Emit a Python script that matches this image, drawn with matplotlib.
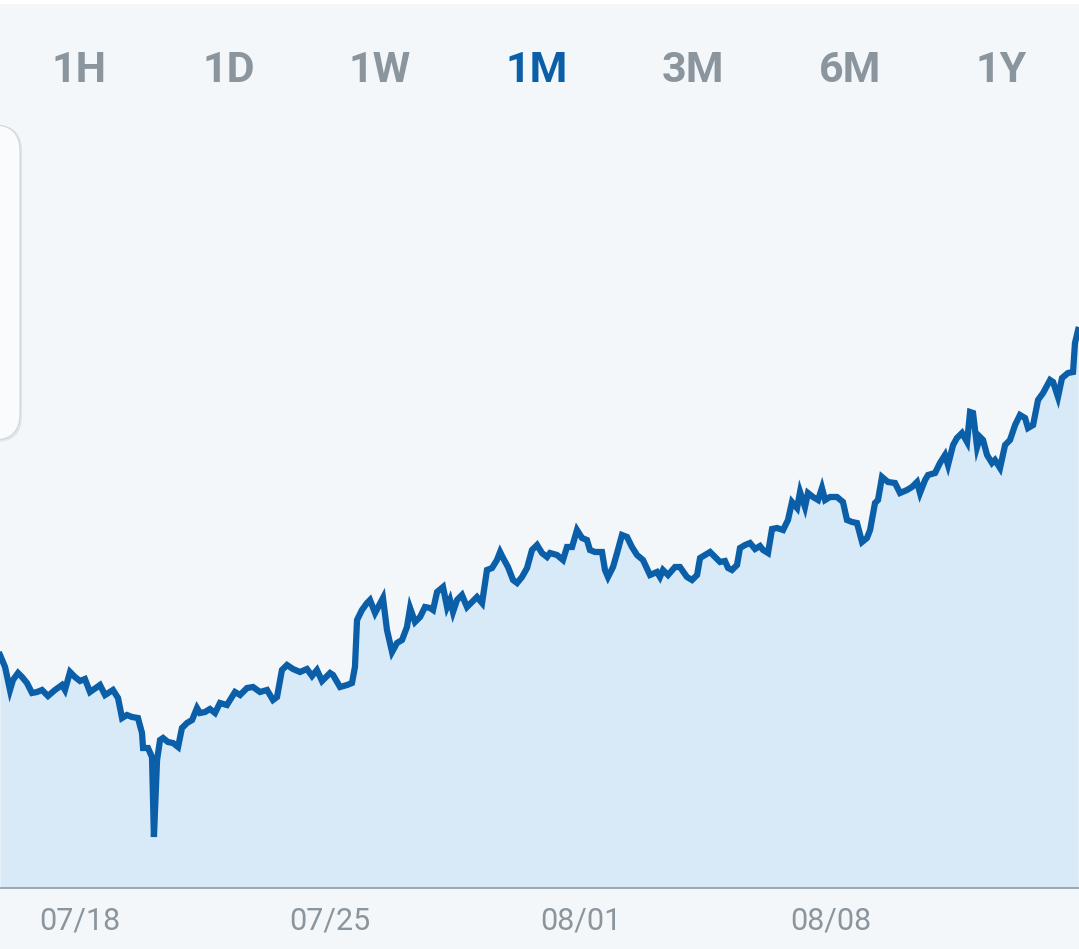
import matplotlib
matplotlib.use("Agg")
from matplotlib import pyplot as plt
from matplotlib.patches import FancyBboxPatch, Rectangle

# hours since 07/15 00:00
hours = [18.3, 21.7, 25.0, 27.0, 30.4, 33.1, 36.4, 39.8, 43.1, 46.5,
         50.5, 55.2, 59.9, 61.9, 65.3, 68.6, 72.0, 75.3, 78.7, 83.4,
         85.4, 88.8, 94.1, 97.5, 100.2, 103.5, 106.9, 110.9, 113.6, 114.3,
         117.6, 120.3, 121.6, 123.7, 125.7, 127.7, 131.0, 134.4, 137.8, 140.4,
         143.8, 147.2, 150.5, 152.5, 155.9, 159.2, 162.6, 165.9, 170.6, 176.0,
         179.4, 184.1, 188.1, 192.8, 197.5, 201.5, 204.2, 207.5, 210.9, 214.9,
         219.6, 224.3, 227.7, 231.0, 234.4, 239.8, 241.8, 246.5, 251.2, 254.5,
         256.5, 257.9, 261.2, 264.6, 266.6, 270.0, 275.3, 278.0, 281.4, 284.7,
         288.1, 291.4, 293.5, 296.8, 300.2, 303.5, 306.9, 308.9, 311.6, 315.6,
         318.3, 320.3, 322.3, 325.0, 328.3, 331.7, 335.1, 338.4, 341.8, 345.1,
         348.5, 351.8, 353.9, 355.9, 359.2, 362.6, 365.3, 368.6, 372.0, 375.3,
         378.7, 382.0, 385.4, 387.4, 392.1, 396.1, 398.8, 402.2, 405.5, 408.9,
         412.2, 414.2, 417.6, 422.3, 424.3, 426.3, 429.7, 432.4, 435.7, 439.1,
         442.4, 445.8, 449.8, 454.5, 459.2, 461.2, 463.2, 466.6, 471.3, 474.6,
         479.3, 482.7, 486.1, 488.1, 491.4, 494.8, 498.1, 501.5, 504.8, 506.9,
         509.5, 512.9, 514.9, 518.3, 521.6, 525.0, 528.3, 530.4, 533.7, 536.4,
         539.7, 543.8, 547.1, 549.8, 553.2, 555.2, 558.5, 560.5, 563.9, 567.3,
         569.9, 572.0, 575.3, 580.0, 584.0, 586.7, 590.1, 593.4, 596.8, 600.1,
         602.2, 605.5, 607.5, 610.2, 614.2, 618.9, 622.3, 627.0, 630.3, 633.7,
         635.7, 639.1, 641.1, 645.8, 649.1, 652.5, 654.5, 657.9, 660.5, 663.9,
         667.3, 669.3, 671.3, 674.0, 676.0, 678.0, 680.7, 684.0, 686.0, 689.4,
         692.8, 696.1, 699.5, 702.8, 706.2, 708.2, 711.6, 714.9, 718.3, 723.0,
         725.0, 728.3, 731.0, 735.0, 738.4, 739.7, 741.8]

prices = [24.5, 23.3, 21.0, 22.0, 22.7, 22.3, 21.7, 20.7, 20.8, 21.0,
          20.4, 21.0, 21.5, 21.0, 22.8, 22.3, 21.9, 22.1, 20.8, 21.3,
          21.5, 20.5, 21.0, 20.2, 18.2, 18.5, 18.3, 18.2, 16.7, 15.2,
          15.2, 14.3, 6.3, 14.0, 16.0, 16.2, 15.8, 15.7, 15.3, 17.2,
          17.7, 18.0, 19.2, 18.7, 18.8, 19.1, 18.7, 19.7, 19.5, 20.8,
          20.5, 21.2, 21.3, 20.8, 21.0, 20.0, 20.3, 23.0, 23.5, 23.1,
          22.8, 23.1, 22.4, 23.0, 21.9, 22.7, 22.5, 21.3, 21.5, 21.7,
          23.3, 28.0, 29.0, 29.7, 30.0, 28.7, 30.2, 27.0, 24.8, 25.7,
          26.0, 27.3, 29.2, 27.8, 28.3, 29.3, 29.2, 29.0, 30.8, 31.3,
          29.3, 30.0, 28.8, 30.0, 30.5, 29.3, 29.8, 30.3, 29.7, 33.0,
          33.2, 34.0, 34.8, 34.2, 33.3, 32.0, 31.7, 32.3, 33.2, 35.0,
          35.5, 34.7, 34.3, 34.7, 34.5, 34.0, 35.3, 35.3, 37.0, 36.2,
          36.0, 35.0, 34.8, 34.8, 33.0, 32.3, 33.3, 34.7, 36.5, 36.3,
          35.3, 34.5, 34.0, 32.5, 32.8, 32.3, 33.0, 32.5, 33.3, 33.3,
          32.3, 32.0, 32.5, 34.2, 34.5, 34.8, 34.3, 33.8, 33.9, 33.2,
          33.0, 33.5, 35.2, 35.5, 35.7, 35.1, 35.4, 35.0, 34.7, 37.1,
          37.2, 37.0, 38.0, 39.8, 39.2, 40.8, 39.3, 40.7, 40.3, 40.0,
          41.2, 40.0, 40.3, 40.3, 39.8, 38.0, 37.8, 37.7, 35.8, 36.2,
          37.0, 39.7, 40.0, 42.3, 41.8, 41.7, 40.7, 41.0, 41.3, 41.8,
          40.7, 42.0, 42.5, 42.7, 43.7, 44.5, 43.5, 45.5, 46.2, 46.7,
          45.8, 48.8, 48.7, 45.3, 46.3, 46.0, 44.5, 43.7, 44.0, 43.2,
          45.5, 46.0, 47.5, 48.5, 48.2, 47.2, 47.5, 50.0, 50.7, 52.0,
          51.8, 50.3, 52.2, 52.7, 52.8, 55.7, 57.0]

tick_hours = [72, 240, 408, 576]
tick_labels = ["07/18", "07/25", "08/01", "08/08"]

ranges = ["1H", "1D", "1W", "1M", "3M", "6M", "1Y"]
selected = "1M"

bg = "#F3F7FA"
line_col = "#0B5EA8"
fill_col = "#D8EAF8"
grey = "#8A959E"

plt.rcParams["font.family"] = ["Roboto", "DejaVu Sans"]

fig = plt.figure(figsize=(10.79, 9.49), dpi=100)
fig.patch.set_facecolor(bg)

ax = fig.add_axes([0, 61 / 949, 1, 888 / 949])
ax.set_facecolor("none")
ax.fill_between(hours, prices, 1.2, color=fill_col, linewidth=0)
ax.plot(hours, prices, color=line_col, linewidth=4.5, solid_joinstyle="miter")
ax.set_xlim(18.3, 742.4)
ax.set_ylim(1.2, 90.0)

for s in ["top", "left", "right"]:
    ax.spines[s].set_visible(False)
ax.spines["bottom"].set_color(grey)
ax.spines["bottom"].set_linewidth(1.1)
ax.set_yticks([])
ax.set_xticks(tick_hours)
ax.set_xticklabels(tick_labels, fontsize=22, color=grey)
ax.tick_params(axis="x", length=0, pad=13)

# white strip on top
fig.patches.append(Rectangle((0, 945), 1079, 4, transform=None,
                             facecolor="white", edgecolor="none"))

# card peeking in from the left
shadow = FancyBboxPatch((-40, 507), 62, 317, boxstyle="round,pad=0,rounding_size=26",
                        transform=None, facecolor="#000000", alpha=0.07,
                        edgecolor="none")
card = FancyBboxPatch((-40, 509), 60, 315, boxstyle="round,pad=0,rounding_size=26",
                      transform=None, facecolor="#FAFBFC", edgecolor="#D3D6D9",
                      linewidth=0.8)
fig.patches.append(shadow)
fig.patches.append(card)

tab_x = [79, 229, 380, 537, 693, 850, 1001]
for lbl, x in zip(ranges, tab_x):
    fig.text(x / 1079, 1 - 71 / 949, lbl, ha="center", va="center",
             fontsize=31, fontweight="bold",
             color=line_col if lbl == selected else grey)

fig.savefig("out.png", dpi=100, facecolor=bg)
